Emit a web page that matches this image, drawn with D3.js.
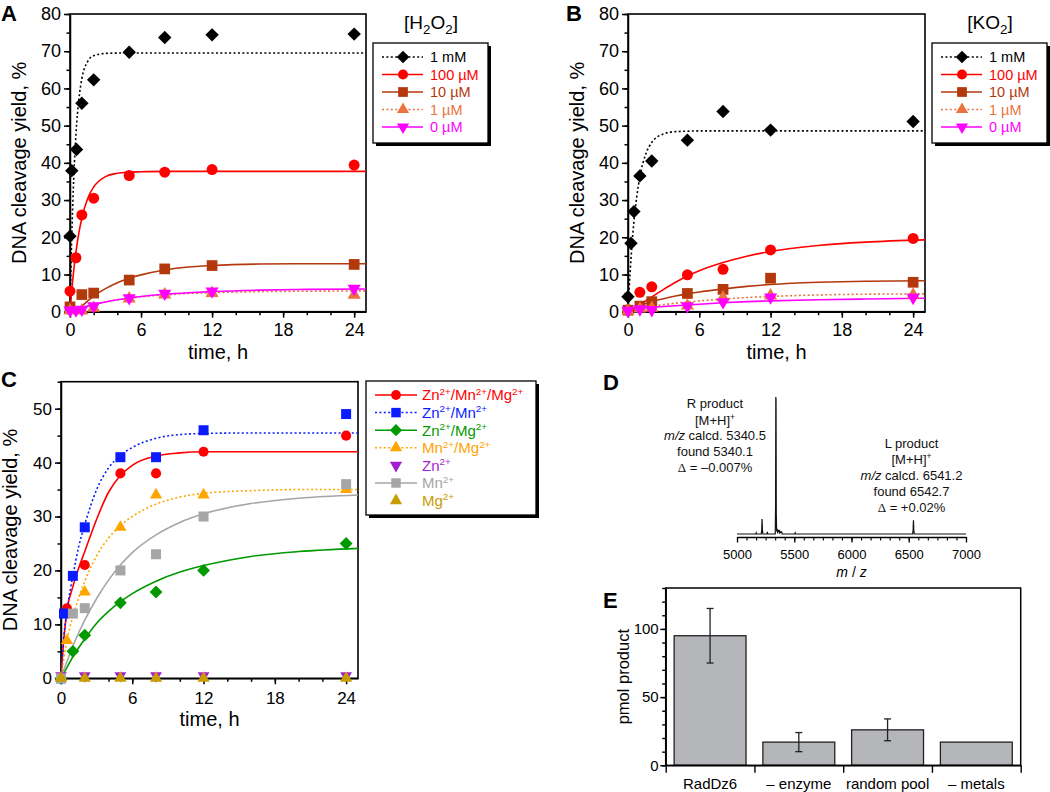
<!DOCTYPE html>
<html><head><meta charset="utf-8">
<script src="https://cdn.jsdelivr.net/npm/d3@7"></script>
<style>
body{margin:0;background:#fff;}
svg{display:block;}
</style></head><body>
<svg id="fig" width="1050" height="792"></svg>
<script>
// ================= DATA =================
// shared kinetic axes
const kineticXTicks = [0, 6, 12, 18, 24];
const kineticXMinor = [0, 2, 4, 6, 8, 10, 12, 14, 16, 18, 20, 22, 24];
const xAxisLabel = "time, h";
const yAxisLabel = "DNA cleavage yield, %";
const concLabels = ["1 mM", "100 µM", "10 µM", "1 µM", "0 µM"];
const fitTimeAB = [0, 0.1, 0.25, 0.5, 0.75, 1, 1.5, 2, 3, 4, 5, 6, 8, 10, 12, 16, 20, 25];

// Panel A  [H2O2]
const timeA_1mM = [0, 0.15, 0.55, 1, 2, 5, 8, 12, 24];
const yieldA_1mM = [20.3, 37.9, 43.6, 56, 62.3, 69.7, 73.7, 74.4, 74.6];
const timeA_100uM = [0, 0.5, 1, 2, 5, 8, 12, 24];
const yieldA_100uM = [5.5, 14.5, 26, 30.5, 36.6, 37.5, 38.2, 39.4];
const timeA_10uM = [0, 1, 2, 5, 8, 12, 24];
const yieldA_10uM = [1.3, 4.6, 5.0, 8.5, 11.5, 12.4, 12.7];
const timeA_1uM = [0, 1, 2, 5, 8, 12, 24];
const yieldA_1uM = [0.3, 0.3, 1.0, 3.5, 4.6, 5.0, 4.5];
const timeA_0uM = [0, 0.5, 1, 2, 5, 8, 12, 24];
const yieldA_0uM = [0.4, 0.4, 0.6, 1.5, 3.7, 4.9, 5.5, 6.2];
const fitA_1mM = [0, 14.2, 30.4, 47.5, 57.1, 62.6, 67.3, 68.8, 69.4, 69.5, 69.5, 69.5, 69.5, 69.5, 69.5, 69.5, 69.5, 69.5];
const fitA_100uM = [0, 3.9, 9.1, 16.0, 21.2, 25.1, 30.5, 33.5, 36.3, 37.2, 37.5, 37.6, 37.7, 37.7, 37.7, 37.7, 37.7, 37.7];
const fitA_10uM = [0, 0, 0.1, 0.4, 0.9, 1.5, 2.9, 4.2, 6.2, 7.8, 9.0, 9.9, 11.2, 12.0, 12.4, 12.8, 12.9, 12.9];
const fitA_1uM = [0.3, 0.4, 0.5, 0.7, 0.9, 1.1, 1.5, 1.9, 2.6, 3.2, 3.6, 4.0, 4.5, 4.9, 5.1, 5.4, 5.5, 5.6];
const fitA_0uM = [0.3, 0.4, 0.5, 0.7, 0.9, 1.1, 1.5, 1.9, 2.6, 3.2, 3.7, 4.1, 4.7, 5.1, 5.4, 5.8, 6.0, 6.1];

// Panel B  [KO2]
const timeB_1mM = [0, 0.25, 0.5, 1, 2, 5, 8, 12, 24];
const yieldB_1mM = [4.0, 18.4, 26.9, 36.5, 40.5, 46.1, 53.8, 48.8, 51.1];
const timeB = [0, 1, 2, 5, 8, 12, 24];
const yieldB_100uM = [0.5, 5.2, 6.7, 9.9, 11.4, 16.6, 19.7];
const yieldB_10uM = [0.4, 1.5, 2.7, 4.9, 6.0, 9.0, 7.9];
const yieldB_1uM = [0.2, 0.8, 1.0, 1.6, 3.8, 4.3, 4.5];
const yieldB_0uM = [0.3, 0.7, 0.5, 1.5, 2.6, 3.9, 3.8];
const fitB_1mM = [0, 6.2, 14.1, 24.3, 31.2, 36.3, 42.4, 45.5, 47.8, 48.4, 48.5, 48.6, 48.6, 48.6, 48.6, 48.6, 48.6, 48.6];
const fitB_100uM = [0, 0, 0.1, 0.3, 1.0, 1.8, 2.9, 4.0, 6.0, 7.9, 9.6, 11.0, 13.2, 14.9, 16.2, 17.8, 18.7, 19.3];
const fitB_10uM = [0.5, 0.6, 0.7, 1.0, 1.3, 1.6, 2.2, 2.7, 3.5, 4.2, 4.8, 5.3, 6.1, 6.8, 7.3, 7.9, 8.2, 8.3];
const fitB_1uM = [0.5, 0.55, 0.6, 0.75, 0.9, 1.0, 1.25, 1.5, 1.9, 2.3, 2.6, 2.9, 3.4, 3.8, 4.1, 4.5, 4.7, 4.8];
const fitB_0uM = [0.7, 0.72, 0.75, 0.8, 0.85, 0.9, 1.0, 1.2, 1.4, 1.6, 1.8, 2.0, 2.4, 2.7, 2.9, 3.2, 3.4, 3.6];

// Panel C  metal ions
const fitTimeC = [0, 0.25, 0.5, 1, 1.5, 2, 3, 4, 5, 6, 8, 10, 12, 16, 20, 25];
const timeC_ZnMnMg = [0, 0.5, 2, 5, 8, 12, 24];
const yieldC_ZnMnMg = [0, 13, 21, 38, 38, 42, 45];
const timeC_ZnMn = [0, 0.25, 1, 2, 5, 8, 12, 24];
const yieldC_ZnMn = [0, 12, 19, 28, 41, 41, 46, 49];
const timeC_ZnMg = [0, 1, 2, 5, 8, 12, 24];
const yieldC_ZnMg = [0, 5, 8, 14, 16, 20, 25];
const timeC_MnMg = [0, 0.5, 2, 5, 8, 12, 24];
const yieldC_MnMg = [0, 7, 16, 28, 34, 34, 35];
const timeC_Zn = [0, 2, 5, 8, 12, 24];
const yieldC_Zn = [0.5, 0.5, 0.5, 0.5, 0.5, 0.5];
const timeC_Mn = [0, 1, 2, 5, 8, 12, 24];
const yieldC_Mn = [0, 12, 13, 20, 23, 30, 36];
const timeC_Mg = [0, 2, 5, 8, 12, 24];
const yieldC_Mg = [0, 0, 0, 0, 0, 0];
const fitC_ZnMnMg = [0, 7.5, 12.5, 17, 20.5, 23.5, 29.5, 34.5, 37.6, 39.5, 41.2, 41.8, 42, 42, 42, 42];
const fitC_ZnMn = [0, 8, 12.5, 19, 24.5, 28.5, 35, 39, 41.3, 42.8, 44.5, 45.2, 45.4, 45.5, 45.5, 45.5];
const fitC_ZnMg = [0, 1, 2, 4, 5.7, 7.3, 10.2, 12.4, 14.2, 15.7, 18, 19.7, 20.9, 22.6, 23.5, 24.1];
const fitC_MnMg = [0, 3.8, 7, 11.5, 15, 18, 22.7, 26, 28.3, 30, 32.3, 33.6, 34.3, 34.8, 35, 35];
const fitC_Mn = [0, 1.6, 3.1, 6, 8.5, 10.8, 14.8, 18.2, 21, 23.3, 26.6, 28.9, 30.5, 32.4, 33.4, 34];

// Panel D  mass spectrum
const specMz = [5000, 5165, 5168, 5171, 5212, 5216, 5219, 5222, 5226, 5262, 5265, 5268, 5334, 5337, 5339, 5341, 5343, 5346, 5350, 5354, 5358, 5362, 5366, 5370, 5375, 5380, 5390, 5395, 5505, 5508, 5511, 6534, 6538, 6541, 6544, 6548, 7000];
const specInt = [0, 0, 0.8, 0, 0, 3, 11, 3, 0, 0, 1.5, 0, 0, 20, 100, 98, 15, 2, 3, 1.5, 2.5, 2, 3, 1, 2, 1, 1.5, 0, 0, 0.8, 0, 0, 3, 10, 3, 0, 0];
const mzTickLabels = [5000, 5500, 6000, 6500, 7000];

// Panel E  bar chart
const eCategories = ["RadDz6", "– enzyme", "random pool", "– metals"];
const eValues = [95, 17, 26, 17];
const eErrLow = [75, 10, 18, null];
const eErrHigh = [115, 24, 34, null];
const eYTicks = [0, 50, 100];

// ================= DRAWING =================
const FONT = "'Liberation Sans', Arial, Helvetica, sans-serif";
const svg = d3.select('#fig').attr('font-family', FONT);

function styleAxis(a, fs, sw) {
  a.attr('font-family', FONT).attr('font-size', fs);
  a.selectAll('line,path').attr('stroke', '#000').attr('stroke-width', sw);
  a.selectAll('text').attr('fill', '#000');
}
function rich(textSel, parts, fs) {
  let shift = 0;
  parts.forEach(p => {
    const str = typeof p === 'string' ? p : p[0];
    const kind = typeof p === 'string' ? '' : p[1];
    const ts = textSel.append('tspan').text(str);
    let target = 0;
    if (kind === 'sup') { target = -0.38 * fs; ts.attr('font-size', fs * 0.66); }
    if (kind === 'sub') { target = 0.25 * fs; ts.attr('font-size', fs * 0.7); }
    if (kind === 'it') ts.attr('font-style', 'italic');
    if (kind === 'serif') ts.attr('font-family', "'Liberation Serif', 'DejaVu Serif', serif");
    if (target - shift !== 0) ts.attr('dy', target - shift);
    shift = target;
  });
}
function markerPath(type, size) {
  if (type === 'circle') return d3.symbol(d3.symbolCircle, size)();
  if (type === 'square' || type === 'diamond') return d3.symbol(d3.symbolSquare, size)();
  return d3.symbol(d3.symbolTriangle, size)();
}
function markerRot(type) { return type === 'diamond' ? 45 : (type === 'tridown' ? 180 : 0); }

function drawKinetic(cfg) {
  const g = svg.append('g');
  const x = d3.scaleLinear().domain([0, 25]).range([cfg.x0, cfg.x1]);
  const y = d3.scaleLinear().domain([0, cfg.ymax]).range([cfg.y1, cfg.y0]);
  const clipId = 'clip' + cfg.id;
  svg.append('clipPath').attr('id', clipId).append('rect')
    .attr('x', cfg.x0).attr('y', cfg.y0).attr('width', cfg.x1 - cfg.x0).attr('height', cfg.y1 - cfg.y0);

  g.append('g').attr('transform', `translate(0,${cfg.y1})`)
    .call(d3.axisBottom(x).tickValues(kineticXMinor).tickSize(3.5).tickFormat(''))
    .call(a => { a.select('.domain').remove(); styleAxis(a, cfg.tickFs, 1.5); });
  g.append('g').attr('transform', `translate(0,${cfg.y1})`)
    .call(d3.axisBottom(x).tickValues(kineticXTicks).tickSize(6).tickPadding(cfg.xPad).tickSizeOuter(0))
    .call(a => styleAxis(a, cfg.tickFs, 1.5));
  g.append('g').attr('transform', `translate(${cfg.x0},0)`)
    .call(d3.axisLeft(y).tickValues(d3.range(0, cfg.ymax + 0.1, 5)).tickSize(3.5).tickFormat(''))
    .call(a => { a.select('.domain').remove(); styleAxis(a, cfg.tickFs, 1.5); });
  g.append('g').attr('transform', `translate(${cfg.x0},0)`)
    .call(d3.axisLeft(y).tickValues(d3.range(0, cfg.ymax + 0.1, 10)).tickSize(6).tickPadding(3).tickSizeOuter(0))
    .call(a => styleAxis(a, cfg.tickFs, 1.5));
  g.append('rect').attr('x', cfg.x0).attr('y', cfg.y0).attr('width', cfg.x1 - cfg.x0).attr('height', cfg.y1 - cfg.y0)
    .attr('fill', 'none').attr('stroke', '#000').attr('stroke-width', 1.6);

  g.append('text').attr('x', (cfg.x0 + cfg.x1) / 2).attr('y', cfg.xLabelY).attr('text-anchor', 'middle')
    .attr('font-size', cfg.labelFs).text(xAxisLabel);
  g.append('text').attr('transform', `translate(${cfg.x0 - 44},${(cfg.y0 + cfg.y1) / 2}) rotate(-90)`)
    .attr('text-anchor', 'middle').attr('font-size', cfg.labelFs).text(yAxisLabel);
  g.append('text').attr('x', cfg.letterX).attr('y', cfg.letterY).attr('font-size', 22).attr('font-weight', 'bold').text(cfg.letter);

  const line = d3.line().x(d => x(d[0])).y(d => y(d[1])).curve(d3.curveMonotoneX);
  cfg.series.forEach(s => {
    if (!s.fit) return;
    const pts = cfg.fitTime.map((t, i) => [t, s.fit[i]]);
    g.append('path').attr('clip-path', `url(#${clipId})`).attr('d', line(pts))
      .attr('fill', 'none').attr('stroke', s.color).attr('stroke-width', 1.6)
      .attr('stroke-dasharray', s.dotted ? '2,2.4' : null);
  });
  cfg.series.forEach(s => {
    g.append('g').selectAll('path').data(s.t.map((t, i) => [t, s.v[i]])).join('path')
      .attr('d', markerPath(s.marker, cfg.msize[s.marker]))
      .attr('transform', d => `translate(${x(d[0])},${y(d[1])}) rotate(${markerRot(s.marker)})`)
      .attr('fill', s.color);
  });
}

function drawLegend(box, rows, fs, msize) {
  svg.append('rect').attr('x', box.x + 3).attr('y', box.y + 3).attr('width', box.w).attr('height', box.h).attr('fill', '#000');
  svg.append('rect').attr('x', box.x).attr('y', box.y).attr('width', box.w).attr('height', box.h)
    .attr('fill', '#fff').attr('stroke', '#000').attr('stroke-width', 1.3);
  rows.forEach((r, i) => {
    const yy = box.y + box.first + i * box.step;
    if (r.line) {
      svg.append('line').attr('x1', box.x + box.l0).attr('x2', box.x + box.l1).attr('y1', yy).attr('y2', yy)
        .attr('stroke', r.color).attr('stroke-width', 1.5).attr('stroke-dasharray', r.dotted ? '2,2.4' : null);
    }
    svg.append('path').attr('d', markerPath(r.marker, msize[r.marker]))
      .attr('transform', `translate(${box.x + box.m},${yy}) rotate(${markerRot(r.marker)})`).attr('fill', r.color);
    const t = svg.append('text').attr('x', box.x + box.tx).attr('y', yy + 0.36 * fs).attr('font-size', fs).attr('fill', r.color);
    rich(t, r.label, fs);
  });
}

const cBlack = '#000000', cRed = '#ff0000', cBrown = '#b3390c', cOrange = '#ea7440', cMag = '#ff00ff';
const mA = { diamond: 90, circle: 95, square: 115, triangle: 75, tridown: 75 };

function abSeries(times, vals, fits) {
  const styles = [
    { color: cBlack, marker: 'diamond', dotted: true },
    { color: cRed, marker: 'circle', dotted: false },
    { color: cBrown, marker: 'square', dotted: false },
    { color: cOrange, marker: 'triangle', dotted: true },
    { color: cMag, marker: 'tridown', dotted: false }
  ];
  return styles.map((s, i) => Object.assign({}, s, { t: times[i], v: vals[i], fit: fits[i], label: [concLabels[i]] }));
}

const seriesA = abSeries(
  [timeA_1mM, timeA_100uM, timeA_10uM, timeA_1uM, timeA_0uM],
  [yieldA_1mM, yieldA_100uM, yieldA_10uM, yieldA_1uM, yieldA_0uM],
  [fitA_1mM, fitA_100uM, fitA_10uM, fitA_1uM, fitA_0uM]);
const seriesB = abSeries(
  [timeB_1mM, timeB, timeB, timeB, timeB],
  [yieldB_1mM, yieldB_100uM, yieldB_10uM, yieldB_1uM, yieldB_0uM],
  [fitB_1mM, fitB_100uM, fitB_10uM, fitB_1uM, fitB_0uM]);

drawKinetic({ id: 'A', x0: 70, x1: 366, y0: 14, y1: 311.7, ymax: 80, tickFs: 18, labelFs: 20, xPad: 6,
  xLabelY: 359, letter: 'A', letterX: 1, letterY: 20.5, fitTime: fitTimeAB, series: seriesA, msize: mA });
drawKinetic({ id: 'B', x0: 628, x1: 925, y0: 14, y1: 311.7, ymax: 80, tickFs: 18, labelFs: 20, xPad: 6,
  xLabelY: 359, letter: 'B', letterX: 566, letterY: 20.5, fitTime: fitTimeAB, series: seriesB, msize: mA });

const legBoxAB = { w: 115, h: 100, first: 14, step: 17.5, l0: 9, l1: 50, m: 30, tx: 57 };
const legMarkAB = { diamond: 80, circle: 80, square: 95, triangle: 65, tridown: 65 };
drawLegend(Object.assign({ x: 373, y: 43 }, legBoxAB), seriesA.map(s => ({ color: s.color, marker: s.marker, dotted: s.dotted, line: true, label: s.label })), 14.5, legMarkAB);
drawLegend(Object.assign({ x: 932, y: 43 }, legBoxAB), seriesB.map(s => ({ color: s.color, marker: s.marker, dotted: s.dotted, line: true, label: s.label })), 14.5, legMarkAB);
rich(svg.append('text').attr('x', 431).attr('y', 29).attr('text-anchor', 'middle').attr('font-size', 19), ['[H', ['2', 'sub'], 'O', ['2', 'sub'], ']'], 19);
rich(svg.append('text').attr('x', 990).attr('y', 29).attr('text-anchor', 'middle').attr('font-size', 19), ['[KO', ['2', 'sub'], ']'], 19);

// Panel C
const seriesC = [
  { color: '#ff0000', marker: 'circle', dotted: false, line: true, t: timeC_ZnMnMg, v: yieldC_ZnMnMg, fit: fitC_ZnMnMg,
    label: ['Zn', ['2+', 'sup'], '/Mn', ['2+', 'sup'], '/Mg', ['2+', 'sup']] },
  { color: '#0a1cff', marker: 'square', dotted: true, line: true, t: timeC_ZnMn, v: yieldC_ZnMn, fit: fitC_ZnMn,
    label: ['Zn', ['2+', 'sup'], '/Mn', ['2+', 'sup']] },
  { color: '#009a00', marker: 'diamond', dotted: false, line: true, t: timeC_ZnMg, v: yieldC_ZnMg, fit: fitC_ZnMg,
    label: ['Zn', ['2+', 'sup'], '/Mg', ['2+', 'sup']] },
  { color: '#ffa500', marker: 'triangle', dotted: true, line: true, t: timeC_MnMg, v: yieldC_MnMg, fit: fitC_MnMg,
    label: ['Mn', ['2+', 'sup'], '/Mg', ['2+', 'sup']] },
  { color: '#a21fcf', marker: 'tridown', dotted: false, line: false, t: timeC_Zn, v: yieldC_Zn, fit: null,
    label: ['Zn', ['2+', 'sup']] },
  { color: '#a6a6a6', marker: 'square', dotted: false, line: true, t: timeC_Mn, v: yieldC_Mn, fit: fitC_Mn,
    label: ['Mn', ['2+', 'sup']] },
  { color: '#c99c00', marker: 'triangle', dotted: false, line: false, t: timeC_Mg, v: yieldC_Mg, fit: null,
    label: ['Mg', ['2+', 'sup']] }
];
const mC = { diamond: 82, circle: 80, square: 100, triangle: 65, tridown: 60 };
drawKinetic({ id: 'C', x0: 61, x1: 358, y0: 381.7, y1: 678.3, ymax: 55, tickFs: 17, labelFs: 20, xPad: 7.5,
  xLabelY: 726, letter: 'C', letterX: 1, letterY: 387, fitTime: fitTimeC, series: seriesC, msize: mC });
drawLegend({ x: 366, y: 381, w: 170, h: 134, first: 14, step: 17.6, l0: 9, l1: 51, m: 30, tx: 56 }, seriesC, 15,
  { diamond: 75, circle: 75, square: 90, triangle: 65, tridown: 65 });

// Panel D
(function () {
  const g = svg.append('g');
  const x = d3.scaleLinear().domain([5000, 7000]).range([737, 966]);
  const y = d3.scaleLinear().domain([0, 100]).range([534, 397]);
  const axY = 537;
  const minorVals = d3.range(25).map(i => 5000 + i * 2000 / 24);
  g.append('g').attr('transform', `translate(0,${axY})`)
    .call(d3.axisBottom(x).tickValues(minorVals).tickSize(3.5).tickFormat(''))
    .call(a => { a.select('.domain').remove(); styleAxis(a, 13, 1.1); });
  g.append('g').attr('transform', `translate(0,${axY})`)
    .call(d3.axisBottom(x).tickValues(mzTickLabels).tickSize(5.5).tickPadding(7).tickSizeOuter(0).tickFormat(d3.format('d')))
    .call(a => styleAxis(a, 13, 1.3));
  g.append('path').attr('d', d3.line().x((d, i) => x(specMz[i])).y((d, i) => y(specInt[i]))(specMz))
    .attr('fill', 'none').attr('stroke', '#111').attr('stroke-width', 1.2);
  rich(g.append('text').attr('x', 851.5).attr('y', 577).attr('text-anchor', 'middle').attr('font-size', 14),
    [['m', 'it'], ' / ', ['z', 'it']], 14);
  const blocks = [
    { cx: 715, y: [408, 424.5, 440, 456, 472], mz: '5340.5', found: '5340.1', delta: ' = –0.007%', name: 'R product' },
    { cx: 911.5, y: [447.5, 463.5, 479.5, 495.5, 511.5], mz: '6541.2', found: '6542.7', delta: ' = +0.02%', name: 'L product' }
  ];
  blocks.forEach(b => {
    const lines = [[b.name], ['[M+H]', ['+', 'sup']], [['m/z', 'it'], ' calcd. ' + b.mz], ['found ' + b.found], [['Δ', 'serif'], b.delta]];
    lines.forEach((parts, i) => {
      rich(g.append('text').attr('x', b.cx).attr('y', b.y[i]).attr('text-anchor', 'middle').attr('font-size', 13).attr('fill', '#111'), parts, 13);
    });
  });
  g.append('text').attr('x', 603).attr('y', 390).attr('font-size', 22).attr('font-weight', 'bold').text('D');
})();

// Panel E
(function () {
  const g = svg.append('g');
  const x0 = 665.7, x1 = 1020.7, y0 = 588, y1 = 765.3;
  const xb = d3.scaleBand().domain(eCategories).range([x0, x1]).paddingInner(0.19).paddingOuter(0.095);
  const xl = d3.scaleLinear().domain([0, eCategories.length]).range([x0, x1]);
  const y = d3.scaleLinear().domain([0, 130]).range([y1, y0]);
  g.selectAll('rect.bar').data(eValues).join('rect').attr('class', 'bar')
    .attr('x', (d, i) => xb(eCategories[i])).attr('width', xb.bandwidth())
    .attr('y', d => y(d)).attr('height', d => y(0) - y(d))
    .attr('fill', '#b4b6b9').attr('stroke', '#222').attr('stroke-width', 1.3);
  eValues.forEach((d, i) => {
    if (eErrLow[i] == null) return;
    const cx = xb(eCategories[i]) + xb.bandwidth() / 2;
    g.append('line').attr('x1', cx).attr('x2', cx).attr('y1', y(eErrLow[i])).attr('y2', y(eErrHigh[i])).attr('stroke', '#222').attr('stroke-width', 1.3);
    [eErrLow[i], eErrHigh[i]].forEach(v => g.append('line').attr('x1', cx - 3.5).attr('x2', cx + 3.5).attr('y1', y(v)).attr('y2', y(v)).attr('stroke', '#222').attr('stroke-width', 1.3));
  });
  g.append('g').attr('transform', `translate(${x0},0)`)
    .call(d3.axisLeft(y).tickValues(d3.range(0, 131, 10)).tickSize(3.5).tickFormat(''))
    .call(a => { a.select('.domain').remove(); styleAxis(a, 15, 1.4); });
  g.append('g').attr('transform', `translate(${x0},0)`)
    .call(d3.axisLeft(y).tickValues(eYTicks).tickSize(5.5).tickPadding(1.5).tickSizeOuter(0))
    .call(a => styleAxis(a, 15, 1.4));
  g.append('g').attr('transform', `translate(0,${y1})`)
    .call(d3.axisBottom(xl).tickValues(d3.range(0, eCategories.length + 1)).tickSize(7.5).tickFormat('').tickSizeOuter(0))
    .call(a => styleAxis(a, 15, 1.4));
  g.append('g').attr('transform', `translate(0,${y1})`)
    .call(d3.axisBottom(xb).tickSize(0).tickPadding(13))
    .call(a => { a.select('.domain').remove(); styleAxis(a, 15, 1.4); });
  g.append('rect').attr('x', x0).attr('y', y0).attr('width', x1 - x0).attr('height', y1 - y0)
    .attr('fill', 'none').attr('stroke', '#000').attr('stroke-width', 1.5);
  g.append('text').attr('transform', `translate(629,${(y0 + y1) / 2}) rotate(-90)`).attr('text-anchor', 'middle')
    .attr('font-size', 16.5).text('pmol product');
  g.append('text').attr('x', 603).attr('y', 608).attr('font-size', 22).attr('font-weight', 'bold').text('E');
})();
</script></body></html>
